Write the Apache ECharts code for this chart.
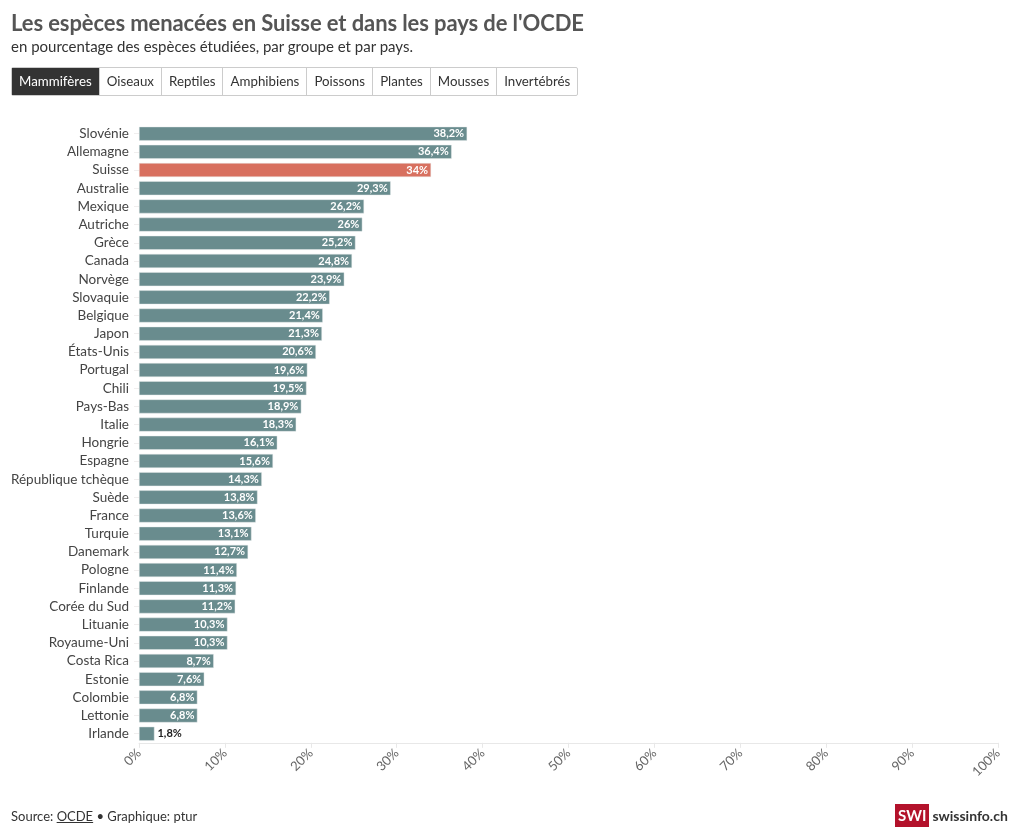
<!DOCTYPE html>
<html><head><meta charset="utf-8">
<script src="https://cdn.jsdelivr.net/npm/echarts@6/dist/echarts.min.js"></script>
<style>
html,body{margin:0;padding:0;background:#fff;width:1020px;height:839px;overflow:hidden;font-family:Lato,"Noto Sans",sans-serif;}
#chart{position:absolute;left:0;top:0;width:1020px;height:839px;}
.title{position:absolute;left:11px;top:9px;font-size:22px;font-weight:bold;color:#555;white-space:nowrap;letter-spacing:-0.1px;}
.sub{position:absolute;left:11px;top:37px;font-size:15px;color:#333;white-space:nowrap;}
.tabs{position:absolute;left:11px;top:67px;display:flex;border:1px solid #ccc;border-radius:2px;height:27px;}
.tabs div{font-size:13.3px;color:#333;padding:0 7.05px;line-height:27px;border-left:1px solid #ccc;white-space:nowrap;}
.tabs div:first-child{border-left:none;background:#333;color:#fff;}
.foot{position:absolute;left:11px;top:808px;font-size:13px;color:#333;white-space:nowrap;}
.foot u{text-decoration:underline;}
.logo{position:absolute;left:895px;top:804px;height:23px;display:flex;align-items:center;white-space:nowrap;}
.logo .swi{background:#b3122b;color:#fff;font-weight:bold;font-size:15px;padding:0 3px;line-height:23px;}
.logo .si{font-weight:bold;font-size:14px;color:#333;margin-left:3px;}
</style></head>
<body>
<div id="chart"></div>
<div class="title">Les espèces menacées en Suisse et dans les pays de l'OCDE</div>
<div class="sub">en pourcentage des espèces étudiées, par groupe et par pays.</div>
<div class="tabs" id="tabs"></div>
<div class="foot">Source: <u>OCDE</u> • Graphique: ptur</div>
<div class="logo"><span class="swi">SWI</span><span class="si">swissinfo.ch</span></div>
<script>
const tabNames = ["Mammifères","Oiseaux","Reptiles","Amphibiens","Poissons","Plantes","Mousses","Invertébrés"];
const countries = ["Slovénie","Allemagne","Suisse","Australie","Mexique","Autriche","Grèce","Canada","Norvège","Slovaquie","Belgique","Japon","États-Unis","Portugal","Chili","Pays-Bas","Italie","Hongrie","Espagne","République tchèque","Suède","France","Turquie","Danemark","Pologne","Finlande","Corée du Sud","Lituanie","Royaume-Uni","Costa Rica","Estonie","Colombie","Lettonie","Irlande"];
const values = [38.2,36.4,34,29.3,26.2,26,25.2,24.8,23.9,22.2,21.4,21.3,20.6,19.6,19.5,18.9,18.3,16.1,15.6,14.3,13.8,13.6,13.1,12.7,11.4,11.3,11.2,10.3,10.3,8.7,7.6,6.8,6.8,1.8];
const highlight = "Suisse";
const xTicks = [0,10,20,30,40,50,60,70,80,90,100];

document.getElementById('tabs').innerHTML = tabNames.map(t => '<div>' + t + '</div>').join('');

const fmt = v => String(v).replace('.', ',') + '%';
const data = values.map((v, i) => {
  const item = { value: v, itemStyle: { color: countries[i] === highlight ? '#d8705f' : '#698c8e' } };
  if (v < 4) item.label = { position: 'right', color: '#222', distance: 3 };
  return item;
});

const chart = echarts.init(document.getElementById('chart'), null, { renderer: 'canvas' });
chart.setOption({
  animation: false,
  grid: { left: 139, right: 22, top: 124.6, bottom: 96.2, containLabel: false },
  xAxis: {
    type: 'value', min: xTicks[0], max: xTicks[xTicks.length - 1], interval: 10,
    axisLine: { show: true, lineStyle: { color: '#e8e8e8' } },
    axisTick: { show: true, length: 5, lineStyle: { color: '#e8e8e8' } },
    splitLine: { show: false },
    axisLabel: { rotate: 45, color: '#666', fontSize: 13, fontFamily: 'Lato, "Noto Sans", sans-serif', margin: 8, formatter: v => v + '%' }
  },
  yAxis: {
    type: 'category', data: countries, inverse: true,
    axisLine: { show: false },
    axisTick: { show: true, length: 5, alignWithLabel: true, interval: 0, lineStyle: { color: '#f0eeee' } },
    axisLabel: { interval: 0, color: '#444', fontSize: 13.5, fontFamily: 'Lato, "Noto Sans", sans-serif', margin: 10 }
  },
  series: [{
    type: 'bar', data: data, barWidth: 14,
    itemStyle: { borderColor: 'rgba(230,236,236,0.9)', borderWidth: 0.5 },
    label: {
      show: true, position: 'insideRight', distance: 3, color: '#fff', fontWeight: 'bold', fontSize: 11,
      fontFamily: 'Lato, "Noto Sans", sans-serif', formatter: p => fmt(p.value)
    }
  }]
});
</script>
</body></html>
